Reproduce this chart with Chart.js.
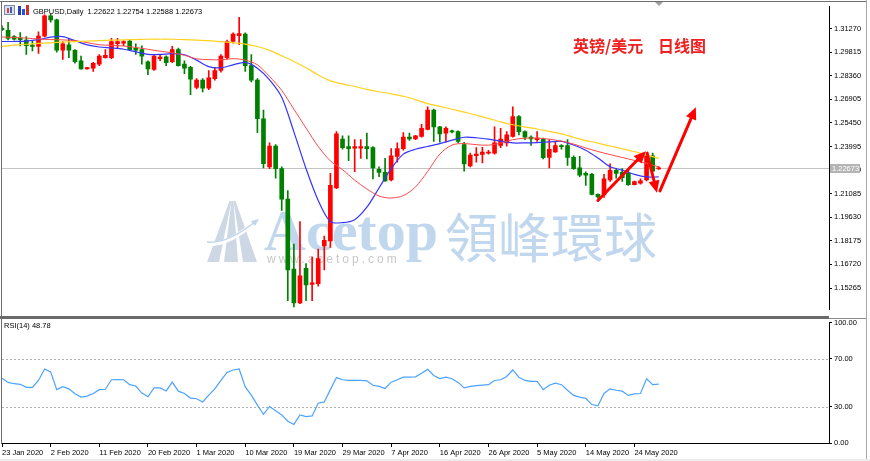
<!DOCTYPE html>
<html>
<head>
<meta charset="utf-8">
<script src="https://cdn.jsdelivr.net/npm/chart.js@4.4.1/dist/chart.umd.min.js"></script>
<style>
html,body{margin:0;padding:0;background:#fff;}
#wrap{position:relative;width:870px;height:461px;overflow:hidden;background:#fff;}
#main{position:absolute;left:0;top:0;}
#rsi{position:absolute;left:0;top:316px;}
</style>
</head>
<body>
<div id="wrap">
<canvas id="main" width="870" height="316"></canvas>
<canvas id="rsi" width="870" height="145"></canvas>
</div>
<script>
// GBPUSD daily bars, 23 Jan 2020 .. 28 May 2020 (Sunday bars included)
const open = [1.3130,1.3117,1.3078,1.3067,1.3057,1.3026,1.3018,1.3081,1.3206,1.3181,
  1.2994,1.3028,1.2994,1.2929,1.2879,1.2883,1.2908,1.2948,1.2948,1.3034,
  1.3038,1.3051,1.3006,1.2998,1.2923,1.2875,1.2942,1.2954,1.2923,1.2998,
  1.2908,1.2889,1.2764,1.2810,1.2760,1.2819,1.2869,1.2948,1.3048,1.3084,
  1.3093,1.2899,1.2810,1.2571,1.2274,1.2402,1.2263,1.2075,1.1644,1.1434,
  1.1648,1.1549,1.1553,1.1787,1.1817,1.2144,1.2446,1.2399,1.2390,1.2390,
  1.2399,1.2393,1.2259,1.2240,1.2194,1.2339,1.2387,1.2458,1.2446,1.2462,
  1.2506,1.2625,1.2521,1.2482,1.2497,1.2492,1.2412,1.2280,1.2343,1.2351,
  1.2359,1.2359,1.2406,1.2422,1.2462,1.2585,1.2492,1.2458,1.2442,1.2446,
  1.2333,1.2366,1.2406,1.2406,1.2333,1.2268,1.2234,1.2228,1.2104,1.2101,
  1.2194,1.2253,1.2240,1.2234,1.2164,1.2174,1.2194,1.2343,1.22622];
const high = [1.3145,1.3167,1.3085,1.3103,1.3078,1.3050,1.3107,1.3213,1.3216,1.3187,
  1.3048,1.3067,1.2998,1.2958,1.2889,1.2919,1.2968,1.2998,1.3067,1.3067,
  1.3054,1.3057,1.3034,1.3022,1.2929,1.2962,1.2966,1.2960,1.3018,1.3008,
  1.2929,1.2895,1.2819,1.2819,1.2869,1.2889,1.2968,1.3057,1.3101,1.3197,
  1.3101,1.2968,1.2819,1.2625,1.2422,1.2412,1.2274,1.2128,1.1797,1.1936,
  1.1678,1.1717,1.1767,1.1847,1.2234,1.2492,1.2466,1.2466,1.2442,1.2442,
  1.2482,1.2399,1.2274,1.2327,1.2387,1.2422,1.2486,1.2482,1.2469,1.2537,
  1.2645,1.2631,1.2525,1.2521,1.2502,1.2497,1.2426,1.2359,1.2393,1.2394,
  1.2377,1.2521,1.2512,1.2492,1.2645,1.2591,1.2497,1.2466,1.2492,1.2452,
  1.2442,1.2432,1.2412,1.2442,1.2343,1.2339,1.2244,1.2234,1.2108,1.2228,
  1.2293,1.2263,1.2263,1.2253,1.2186,1.2200,1.2353,1.2359,1.22754];
const low = [1.3115,1.3057,1.3056,1.3020,1.2968,1.2990,1.2974,1.3076,1.3167,1.2982,
  1.2938,1.2948,1.2914,1.2877,1.2877,1.2863,1.2899,1.2945,1.2942,1.3008,
  1.3022,1.2994,1.2968,1.2908,1.2843,1.2869,1.2930,1.2899,1.2918,1.2895,
  1.2849,1.2720,1.2756,1.2736,1.2750,1.2810,1.2859,1.2938,1.3038,1.3028,
  1.2863,1.2799,1.2485,1.2268,1.2263,1.2204,1.2006,1.1449,1.1410,1.1430,
  1.1449,1.1449,1.1538,1.1638,1.1777,1.2140,1.2383,1.2313,1.2244,1.2327,
  1.2323,1.2200,1.2214,1.2184,1.2188,1.2303,1.2378,1.2438,1.2442,1.2458,
  1.2502,1.2432,1.2426,1.2426,1.2484,1.2422,1.2247,1.2274,1.2303,1.2299,
  1.2353,1.2353,1.2393,1.2402,1.2458,1.2472,1.2442,1.2406,1.2432,1.2323,
  1.2268,1.2363,1.2383,1.2283,1.2259,1.2214,1.2160,1.2101,1.2080,1.2085,
  1.2184,1.2204,1.2184,1.2160,1.2162,1.2168,1.2188,1.2244,1.22588];
const close = [1.3121,1.3067,1.3062,1.3059,1.3022,1.3017,1.3081,1.3206,1.3181,1.2994,
  1.3034,1.2994,1.2923,1.2879,1.2887,1.2914,1.2958,1.2962,1.3048,1.3048,
  1.3048,1.2998,1.2994,1.2958,1.2879,1.2958,1.2952,1.2918,1.2998,1.2899,
  1.2883,1.2815,1.2810,1.2760,1.2823,1.2869,1.2958,1.3048,1.3093,1.3097,
  1.2899,1.2810,1.2571,1.2294,1.2402,1.2263,1.2075,1.1638,1.1434,1.1602,
  1.1545,1.1559,1.1708,1.1821,1.2160,1.2478,1.2393,1.2387,1.2399,1.2399,
  1.2387,1.2268,1.2240,1.2188,1.2343,1.2387,1.2458,1.2446,1.2466,1.2512,
  1.2625,1.2521,1.2478,1.2512,1.2490,1.2432,1.2293,1.2347,1.2353,1.2366,
  1.2366,1.2422,1.2446,1.2472,1.2585,1.2492,1.2458,1.2446,1.2452,1.2331,
  1.2383,1.2406,1.2399,1.2333,1.2263,1.2223,1.2223,1.2104,1.2089,1.2200,
  1.2253,1.2234,1.2208,1.2164,1.2184,1.2188,1.2343,1.2247,1.22673];

// moving averages read every 2nd bar
const maStep = 2;
const maFast = [1.3048,1.3048,1.3050,1.3059,1.3075,1.3078,1.3053,1.3027,1.3014,1.3008,
  1.3000,1.2984,1.2969,1.2968,1.2973,1.2966,1.2933,1.2893,1.2886,1.2904,
  1.2919,1.2883,1.2811,1.2704,1.2490,1.2263,1.2067,1.1936,1.1930,1.1948,
  1.2025,1.2144,1.2263,1.2353,1.2383,1.2400,1.2418,1.2439,1.2457,1.2454,
  1.2445,1.2433,1.2422,1.2422,1.2424,1.2428,1.2432,1.2409,1.2377,1.2329,
  1.2275,1.2254,1.2228,1.2212,1.2212];
const maMid = [1.3076,1.3073,1.3069,1.3063,1.3060,1.3058,1.3053,1.3041,1.3028,1.3024,
  1.3020,1.3011,1.3000,1.2988,1.2978,1.2963,1.2941,1.2936,1.2935,1.2942,
  1.2933,1.2904,1.2832,1.2746,1.2630,1.2514,1.2400,1.2311,1.2257,1.2192,
  1.2138,1.2094,1.2082,1.2097,1.2150,1.2246,1.2353,1.2409,1.2418,1.2411,
  1.2408,1.2421,1.2442,1.2451,1.2452,1.2445,1.2433,1.2415,1.2391,1.2369,
  1.2350,1.2332,1.2314,1.2295,1.2274];
const maSlow = [1.3018,1.3025,1.3031,1.3036,1.3040,1.3044,1.3047,1.3050,1.3053,1.3056,
  1.3058,1.3060,1.3062,1.3062,1.3062,1.3060,1.3057,1.3053,1.3047,1.3041,
  1.3032,1.3017,1.2993,1.2960,1.2925,1.2886,1.2841,1.2805,1.2786,1.2770,
  1.2753,1.2738,1.2725,1.2710,1.2689,1.2665,1.2648,1.2630,1.2612,1.2594,
  1.2573,1.2552,1.2534,1.2520,1.2508,1.2493,1.2478,1.2457,1.2436,1.2421,
  1.2403,1.2386,1.2368,1.2347,1.2327];

const rsi = [53.8,50.3,49.2,48.7,46.2,46.2,51.9,61.4,59.0,44.3,
  46.8,44.9,40.8,38.1,38.9,41.1,44.3,44.6,52.5,52.7,
  52.5,48.4,47.3,41.4,38.4,45.7,45.7,43.2,50.5,43.0,
  41.1,37.3,36.7,34.1,39.7,44.9,51.9,58.6,60.6,61.4,
  46.5,39.7,31.4,23.8,30.3,26.8,23.3,18.1,15.4,23.3,
  21.9,22.5,33.0,34.1,44.3,54.3,52.5,51.9,51.9,51.9,
  51.6,47.9,47.0,45.2,50.5,52.5,54.6,54.6,54.9,57.8,
  61.1,56.0,53.5,54.6,53.3,50.3,45.7,47.0,47.6,48.1,
  48.4,51.9,52.5,55.2,60.6,54.6,51.9,51.1,51.1,44.3,
  47.9,49.7,48.4,43.8,39.5,38.1,37.1,31.9,30.8,41.1,
  44.9,43.8,43.0,39.5,40.8,41.1,53.3,48.4,48.78];

const priceTicks = [1.15265,1.16720,1.18175,1.19630,1.21085,1.22540,1.23995,1.25450,1.26905,1.28360,1.29815,1.31270];
const rsiTicks = [0,30,70,100];
const rsiLevels = [30,70];
const xTickIdx = [0,8,16,24,32,40,48,56,64,72,80,88,96,104];
const xTickLabels = ['23 Jan 2020','2 Feb 2020','11 Feb 2020','20 Feb 2020','1 Mar 2020','10 Mar 2020',
  '19 Mar 2020','29 Mar 2020','7 Apr 2020','16 Apr 2020','26 Apr 2020','5 May 2020','14 May 2020','24 May 2020'];

// hand drawn arrows on the chart: [bar from, price from, bar to, price to]
const arrows = [[98.0,1.2067,105.9,1.2371],[106.1,1.2359,107.7,1.2115],[108.2,1.2126,114.1,1.2642]];

const FONT = '"Liberation Sans", Arial, sans-serif';
Chart.defaults.font.family = FONT;
Chart.defaults.font.size = 7.5;
Chart.defaults.color = '#000';

const upCol = '#ff0000', dnCol = '#008000';
const candleCol = close.map((c, i) => c >= open[i] ? upCol : dnCol);
const last = close.length - 1;

const maPts = arr => arr.map((v, k) => ({x: k * maStep, y: v}));

function arrow(ctx, x1, y1, x2, y2) {
  const a = Math.atan2(y2 - y1, x2 - x1), hl = 12, hw = 5.5;
  const bx = x2 - Math.cos(a) * hl, by = y2 - Math.sin(a) * hl;
  ctx.beginPath();
  ctx.moveTo(x1, y1);
  ctx.lineTo(bx, by);
  ctx.stroke();
  ctx.beginPath();
  ctx.moveTo(x2, y2);
  ctx.lineTo(bx + Math.sin(a) * hw, by - Math.cos(a) * hw);
  ctx.lineTo(bx - Math.sin(a) * hw, by + Math.cos(a) * hw);
  ctx.closePath();
  ctx.fill();
}

const mainDecor = {
  id: 'mainDecor',
  beforeDatasetsDraw(chart) {
    const {ctx, chartArea: a, scales: {y}} = chart;
    ctx.save();
    // watermark logo
    ctx.fillStyle = '#cdd8e4';
    [[207,219,229.5,231.5],[224,238,231.5,233.5],[243,257,233.5,235.5]].forEach(s => {
      ctx.beginPath();
      ctx.moveTo(s[0], 262); ctx.lineTo(s[1], 262); ctx.lineTo(s[3], 201); ctx.lineTo(s[2], 201);
      ctx.closePath(); ctx.fill();
    });
    ctx.strokeStyle = '#fff'; ctx.lineWidth = 4;
    ctx.beginPath(); ctx.moveTo(207, 244); ctx.quadraticCurveTo(228, 246, 256, 221); ctx.stroke();
    ctx.strokeStyle = '#c0d6ec'; ctx.lineWidth = 1.5;
    ctx.beginPath(); ctx.moveTo(207, 242); ctx.quadraticCurveTo(228, 244, 256, 221); ctx.stroke();
    ctx.fillStyle = '#c0d6ec';
    ctx.beginPath(); ctx.moveTo(259, 219); ctx.lineTo(251, 221); ctx.lineTo(255, 226); ctx.closePath(); ctx.fill();
    // watermark text
    ctx.fillStyle = '#c0d7ed';
    ctx.textBaseline = 'alphabetic';
    ctx.font = 'bold 58px "Liberation Serif", "DejaVu Serif", serif';
    ctx.fillText('Acetop', 264, 250);
    ctx.font = '53px "Noto Sans CJK TC", "Noto Sans CJK SC", sans-serif';
    ctx.textBaseline = 'middle';
    ctx.fillText('領峰環球', 445, 238);
    ctx.fillStyle = '#c8c8c8';
    ctx.textBaseline = 'alphabetic';
    ctx.font = '12px ' + FONT;
    ctx.letterSpacing = '3px';
    ctx.fillText('www.acetop.com', 267, 263);
    ctx.letterSpacing = '0px';
    // last price line
    const py = Math.round(y.getPixelForValue(close[last])) + 0.5;
    ctx.strokeStyle = '#c4c4c4'; ctx.lineWidth = 1;
    ctx.beginPath(); ctx.moveTo(a.left, py); ctx.lineTo(a.right, py); ctx.stroke();
    ctx.restore();
  },
  afterDraw(chart) {
    const {ctx, chartArea: a, scales: {x, y}} = chart;
    ctx.save();
    // arrows
    ctx.strokeStyle = '#ff0000'; ctx.fillStyle = '#ff0000'; ctx.lineWidth = 3; ctx.lineCap = 'round';
    arrows.forEach(r => arrow(ctx, x.getPixelForValue(r[0]), y.getPixelForValue(r[1]),
                                   x.getPixelForValue(r[2]), y.getPixelForValue(r[3])));
    // title
    ctx.fillStyle = '#f02020';
    ctx.font = 'bold 16px "Noto Sans CJK SC", sans-serif';
    ctx.textBaseline = 'alphabetic';
    ctx.fillText('英镑/美元', 573, 52);
    ctx.fillText('日线图', 658, 52);
    // frame
    ctx.fillStyle = '#6e6e6e';
    ctx.fillRect(0, 1, 867, 1);
    ctx.fillRect(1, 1, 1, 316);
    ctx.fillStyle = '#a8a8a8';
    ctx.fillRect(866, 0, 1, 316);
    // chart shift marker
    ctx.fillStyle = '#a0a0a0';
    ctx.beginPath(); ctx.moveTo(655, 2); ctx.lineTo(663, 2); ctx.lineTo(659, 6); ctx.closePath(); ctx.fill();
    // header icons
    ctx.fillStyle = '#d8e0ee'; ctx.fillRect(4, 5, 11, 10);
    ctx.strokeStyle = '#7d8aa6'; ctx.lineWidth = 1; ctx.strokeRect(4.5, 5.5, 10, 9);
    ctx.fillStyle = '#e04040'; ctx.fillRect(7, 8, 2, 5);
    ctx.fillStyle = '#4060c0'; ctx.fillRect(10, 7, 2, 6);
    ctx.fillStyle = '#2040c0'; ctx.fillRect(18, 6, 3, 9);
    ctx.fillStyle = '#3050d0'; ctx.fillRect(22, 9, 3, 6);
    ctx.fillStyle = '#d03030'; ctx.fillRect(26, 5, 3, 10);
    // header text
    ctx.fillStyle = '#000';
    ctx.font = '7.5px ' + FONT;
    ctx.fillText('GBPUSD,Daily  ' + [open[last], high[last], low[last], close[last]].map(v => v.toFixed(5)).join(' '), 33, 14);
    // last price box
    const py = y.getPixelForValue(close[last]);
    ctx.fillStyle = '#b4b4b4';
    ctx.fillRect(830, Math.round(py) - 4, 30, 9);
    ctx.fillStyle = '#fff';
    ctx.textBaseline = 'middle';
    ctx.fillText(close[last].toFixed(5), 832, py + 0.5);
    ctx.restore();
  }
};

new Chart(document.getElementById('main'), {
  type: 'bar',
  data: {
    datasets: [
      {type: 'line', data: maPts(maSlow), borderColor: '#ffd21f', borderWidth: 1.2, pointRadius: 0, tension: 0.3, order: 0},
      {type: 'line', data: maPts(maMid), borderColor: '#ff4848', borderWidth: 1, pointRadius: 0, tension: 0.3, order: 0},
      {type: 'line', data: maPts(maFast), borderColor: '#3434ff', borderWidth: 1.2, pointRadius: 0, tension: 0.3, order: 0},
      {data: open.map((o, i) => ({x: i, y: [o, close[i]]})), backgroundColor: candleCol,
       barThickness: 4, minBarLength: 1, grouped: false, order: 1},
      {data: open.map((o, i) => ({x: i, y: [low[i], high[i]]})), backgroundColor: candleCol,
       barThickness: 1, grouped: false, order: 2}
    ]
  },
  options: {
    responsive: false, animation: false, devicePixelRatio: 1,
    layout: {padding: {left: 2, top: 2, right: 0, bottom: 0}},
    plugins: {legend: {display: false}, tooltip: {enabled: false}},
    scales: {
      x: {type: 'linear', min: 0, max: 136, display: false, offset: false},
      y: {
        position: 'right', min: 1.13938, max: 1.3264,
        afterFit(s) { s.width = 41; },
        afterBuildTicks(s) { s.ticks = priceTicks.map(v => ({value: v})); },
        ticks: {callback: v => v.toFixed(5), padding: 2, autoSkip: false},
        grid: {drawOnChartArea: false, tickLength: 3, color: '#000'},
        border: {color: '#000'}
      }
    }
  },
  plugins: [mainDecor]
});

const rsiDecor = {
  id: 'rsiDecor',
  beforeDatasetsDraw(chart) {
    const {ctx, chartArea: a, scales: {y}} = chart;
    ctx.save();
    ctx.strokeStyle = '#b0b0b0'; ctx.lineWidth = 1; ctx.setLineDash([2, 2]);
    rsiLevels.forEach(v => {
      const yy = Math.round(y.getPixelForValue(v)) + 0.5;
      ctx.beginPath(); ctx.moveTo(a.left, yy); ctx.lineTo(a.right, yy); ctx.stroke();
    });
    ctx.restore();
  },
  afterDraw(chart) {
    const {ctx} = chart;
    ctx.save();
    ctx.fillStyle = '#6a6a6a';
    ctx.fillRect(0, 0, 829, 3);
    ctx.fillStyle = '#8a8a8a';
    ctx.fillRect(829, 2, 38, 1);
    ctx.fillStyle = '#6e6e6e';
    ctx.fillRect(1, 0, 1, 128);
    ctx.fillStyle = '#a8a8a8';
    ctx.fillRect(866, 0, 1, 143);
    ctx.fillStyle = '#ececec';
    ctx.fillRect(0, 143, 870, 2);
    ctx.fillStyle = '#000';
    ctx.font = '7.5px ' + FONT;
    ctx.textBaseline = 'alphabetic';
    ctx.fillText('RSI(14) ' + rsi[rsi.length - 1].toFixed(2), 4, 12);
    ctx.restore();
  }
};

new Chart(document.getElementById('rsi'), {
  type: 'line',
  data: {
    datasets: [{data: rsi.map((v, i) => ({x: i, y: v})), borderColor: '#4ca2ff', borderWidth: 1.2, pointRadius: 0, tension: 0}]
  },
  options: {
    responsive: false, animation: false, devicePixelRatio: 1,
    layout: {padding: {left: 2, top: 3, right: 0, bottom: 0}},
    plugins: {legend: {display: false}, tooltip: {enabled: false}},
    scales: {
      x: {
        type: 'linear', min: 0, max: 136, offset: false,
        afterFit(s) { s.height = 18; },
        afterBuildTicks(s) { s.ticks = xTickIdx.map(v => ({value: v})); },
        ticks: {callback: (v, i) => xTickLabels[i], align: 'start', autoSkip: false, maxRotation: 0, padding: 1},
        grid: {drawOnChartArea: false, tickLength: 4, color: '#000'},
        border: {color: '#000'}
      },
      y: {
        position: 'right', min: 0, max: 100,
        afterFit(s) { s.width = 41; },
        afterBuildTicks(s) { s.ticks = rsiTicks.map(v => ({value: v})); },
        ticks: {callback: v => v.toFixed(2), padding: 2, autoSkip: false},
        grid: {drawOnChartArea: false, tickLength: 3, color: '#000'},
        border: {color: '#000'}
      }
    }
  },
  plugins: [rsiDecor]
});
</script>
</body>
</html>
